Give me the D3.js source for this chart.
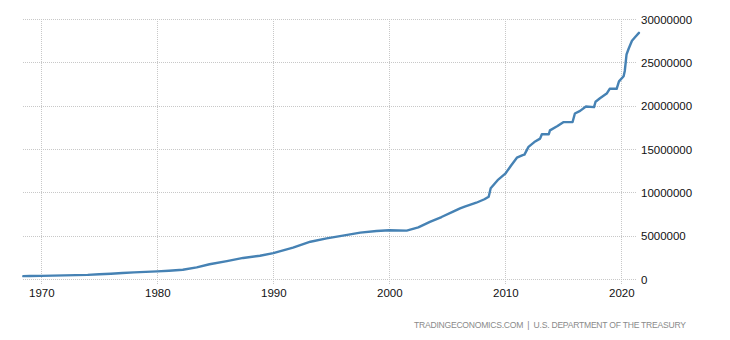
<!DOCTYPE html>
<html>
<head>
<meta charset="utf-8">
<script src="https://cdn.jsdelivr.net/npm/d3@7"></script>
<style>
  html, body { margin: 0; padding: 0; background: #fff; }
  svg { display: block; }
</style>
</head>
<body>
<svg id="chart" width="730" height="340"></svg>
<script>
// Data: U.S. government debt (millions)
const years = [
  1968.45, 1969.0, 1970.0, 1971.0, 1972.0, 1973.0, 1974.0, 1975.0, 1976.0, 1977.0,
  1978.0, 1979.0, 1980.0, 1981.0, 1982.2, 1983.4, 1984.5, 1986.0, 1987.4, 1988.85,
  1990.0, 1991.7, 1993.2, 1994.6, 1996.0, 1997.5, 1998.9, 2000.0, 2001.5, 2002.5,
  2003.5, 2004.5, 2005.5, 2006.1, 2006.5, 2007.5, 2008.2, 2008.57, 2008.74, 2009.34,
  2010.0, 2010.5, 2011.0, 2011.5, 2011.65, 2012.0, 2012.5, 2013.0, 2013.15, 2013.75,
  2013.85, 2014.5, 2015.0, 2015.8, 2016.0, 2016.45, 2016.95, 2017.65, 2017.78, 2018.16,
  2018.74, 2019.0, 2019.6, 2019.8, 2020.2, 2020.3, 2020.45, 2020.64, 2020.92, 2021.18,
  2021.52
];
const debt = [
  330000, 345000, 360000, 390000, 420000, 450000, 480000, 540000, 610000, 690000,
  760000, 820000, 880000, 960000, 1070000, 1340000, 1700000, 2070000, 2430000, 2680000,
  2980000, 3620000, 4300000, 4690000, 5000000, 5350000, 5540000, 5620000, 5580000, 5960000,
  6600000, 7150000, 7770000, 8150000, 8350000, 8800000, 9200000, 9500000, 10470000, 11400000,
  12150000, 13100000, 14000000, 14300000, 14350000, 15250000, 15800000, 16200000, 16700000, 16700000,
  17150000, 17650000, 18100000, 18120000, 19100000, 19400000, 19900000, 19830000, 20450000, 20850000,
  21400000, 21950000, 21950000, 22800000, 23400000, 24000000, 25900000, 26600000, 27500000, 27900000,
  28400000
];
const xTicks = [1970, 1980, 1990, 2000, 2010, 2020];
const yTicks = [0, 5000000, 10000000, 15000000, 20000000, 25000000, 30000000];
const sourceText = "TRADINGECONOMICS.COM  |  U.S. DEPARTMENT OF THE TREASURY";

const svg = d3.select("#chart");
const plotLeft = 23, plotRight = 637, plotTop = 19, plotBottom = 279;

const x = d3.scaleLinear().domain([1970, 2020]).range([41.3, 621.3]);
const y = d3.scaleLinear().domain([0, 30000000]).range([plotBottom, plotTop]);

const grid = svg.append("g");
// horizontal gridlines
grid.selectAll("line.h").data(yTicks).enter().append("line")
  .attr("x1", plotLeft).attr("x2", plotRight)
  .attr("y1", d => Math.round(y(d)) + 0.5).attr("y2", d => Math.round(y(d)) + 0.5)
  .attr("stroke", "#c8c8c8").attr("stroke-width", 1).attr("stroke-dasharray", "1,1");
// vertical gridlines
grid.selectAll("line.v").data(xTicks).enter().append("line")
  .attr("x1", d => Math.round(x(d)) + 0.5).attr("x2", d => Math.round(x(d)) + 0.5)
  .attr("y1", plotTop).attr("y2", plotBottom + 5)
  .attr("stroke", "#c8c8c8").attr("stroke-width", 1).attr("stroke-dasharray", "1,1");

// x axis labels
const xAxis = d3.axisBottom(x).tickValues(xTicks).tickFormat(d3.format("d")).tickSize(0).tickPadding(0);
const gx = svg.append("g").attr("transform", `translate(0,${plotBottom + 10})`).call(xAxis);
gx.select(".domain").remove();
gx.selectAll("text").attr("font-family", "Liberation Sans, Arial, sans-serif")
  .attr("font-size", "11.5px").attr("fill", "#111").attr("dy", "0.71em");

// y axis labels (right)
const yAxis = d3.axisRight(y).tickValues(yTicks).tickFormat(d3.format("d")).tickSize(0).tickPadding(0);
const gy = svg.append("g").attr("transform", `translate(641,0)`).call(yAxis);
gy.select(".domain").remove();
gy.selectAll("text").attr("font-family", "Liberation Sans, Arial, sans-serif")
  .attr("font-size", "11.5px").attr("fill", "#111").attr("dy", "0.35em");

// line
const data = years.map((yr, i) => ({ yr, v: debt[i] }));
const line = d3.line().x(d => x(d.yr)).y(d => y(d.v));
svg.append("path").datum(data)
  .attr("d", line)
  .attr("fill", "none")
  .attr("stroke", "#4682b4")
  .attr("stroke-width", 2.4)
  .attr("stroke-linejoin", "round")
  .attr("stroke-linecap", "round");

// source
svg.append("text")
  .attr("x", 414).attr("y", 328)
  .attr("font-family", "Liberation Sans, Arial, sans-serif")
  .attr("font-size", "8.6px")
  .attr("fill", "#8a8a8a")
  .attr("textLength", 272)
  .attr("lengthAdjust", "spacing")
  .attr("xml:space", "preserve")
  .text(sourceText);
</script>
</body>
</html>
